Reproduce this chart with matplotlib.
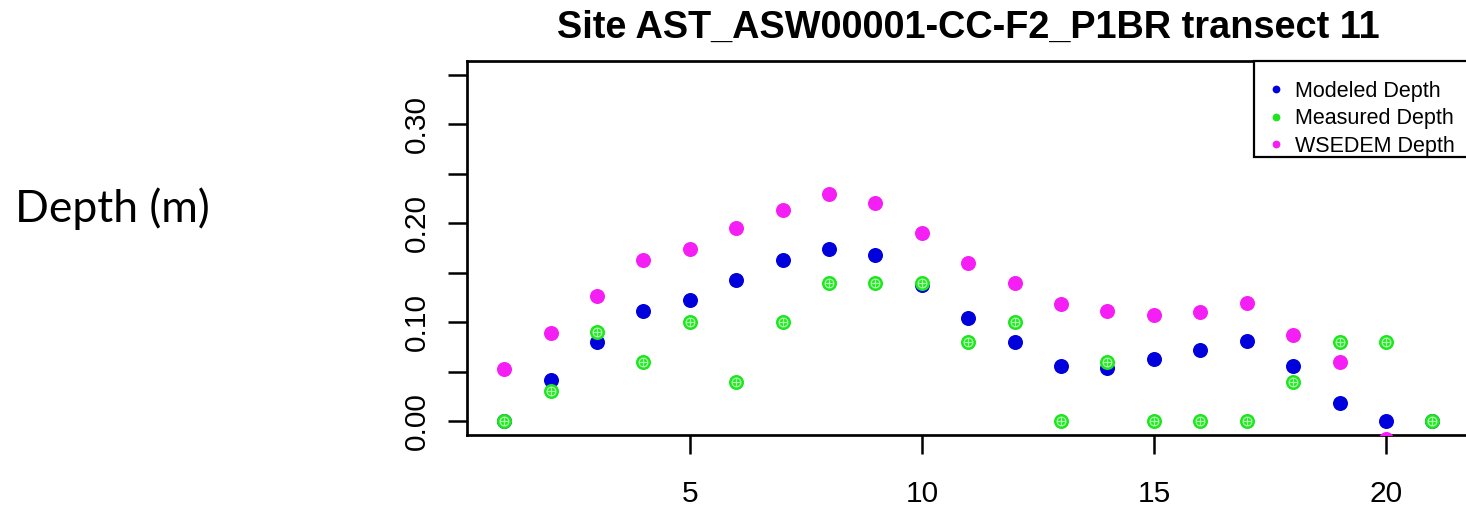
import numpy as np
import matplotlib
matplotlib.use("Agg")
import matplotlib.pyplot as plt
from matplotlib.path import Path
from matplotlib.lines import Line2D
from matplotlib.patches import Rectangle

# ---------------- data ----------------
x_index = list(range(1, 22))
modeled_depth = [0.000, 0.042, 0.080, 0.111, 0.122, 0.143, 0.163, 0.174, 0.168, 0.137,
                 0.104, 0.080, 0.056, 0.054, 0.063, 0.072, 0.081, 0.056, 0.018, 0.000, 0.000]
measured_depth = [0.00, 0.03, 0.09, 0.06, 0.10, 0.04, 0.10, 0.14, 0.14, 0.14,
                  0.08, 0.10, 0.00, 0.06, 0.00, 0.00, 0.00, 0.04, 0.08, 0.08, 0.00]
wsedem_depth = [0.053, 0.089, 0.126, 0.163, 0.174, 0.195, 0.213, 0.229, 0.220, 0.190,
                0.160, 0.139, 0.118, 0.111, 0.107, 0.110, 0.119, 0.087, 0.060, -0.018, np.nan]
series_labels = ["Modeled Depth", "Measured Depth", "WSEDEM Depth"]
x_ticks = [5, 10, 15, 20]
y_ticks = [0.00, 0.05, 0.10, 0.15, 0.20, 0.25, 0.30, 0.35]
y_tick_labels = ["0.00", "", "0.10", "", "0.20", "", "0.30", ""]
title_text = "Site AST_ASW00001-CC-F2_P1BR transect 11"
ylabel_text = "Depth (m)"

# ---------------- style ----------------
C_BLUE = "#0000DD"
C_GREEN = "#1EE61E"
C_MAG = "#F51EF5"

W, H = 1466, 509
DPI = 100
plt.rcParams["font.family"] = ["Liberation Sans", "DejaVu Sans"]


def circled_plus_path(r=0.58, n=48):
    t = np.linspace(0, 2 * np.pi, n)
    verts = list(np.c_[r * np.cos(t), r * np.sin(t)])
    codes = [Path.MOVETO] + [Path.LINETO] * (n - 1)
    verts += [(-r, 0), (r, 0), (0, -r), (0, r)]
    codes += [Path.MOVETO, Path.LINETO, Path.MOVETO, Path.LINETO]
    # pad so the marker scale uses the unit radius of the disk it sits on
    verts += [(1, 0), (1, 0)]
    codes += [Path.MOVETO, Path.MOVETO]
    return Path(np.array(verts, dtype=float), codes)


fig = plt.figure(figsize=(W / DPI, H / DPI), dpi=DPI)
ax_left, ax_right, ax_top, ax_bottom = 467, 1469.5, 60.7, 435
ax = fig.add_axes([ax_left / W, (H - ax_bottom) / H,
                   (ax_right - ax_left) / W, (ax_bottom - ax_top) / H])
ax.set_xlim(0.2, 21.8)
ax.set_ylim(-0.014, 0.364)

ms = 10.8
ax.plot(x_index, wsedem_depth, ls="none", marker="o", ms=ms, mfc=C_MAG, mew=0, zorder=3)
ax.plot(x_index, modeled_depth, ls="none", marker="o", ms=ms, mfc=C_BLUE, mew=0, zorder=3)
ax.plot(x_index, measured_depth, ls="none", marker="o", ms=ms, mfc=C_GREEN, mew=0, zorder=3)
ax.plot(x_index, measured_depth, ls="none", marker=circled_plus_path(), ms=ms,
        fillstyle="none", mec=(0.85, 1.0, 0.85, 0.75), mew=0.9, zorder=3.1)

ax.set_xticks(x_ticks)
ax.set_xticklabels([str(v) for v in x_ticks])
ax.set_yticks(y_ticks)
ax.set_yticklabels(y_tick_labels, rotation=90, va="center")

for s in ax.spines.values():
    s.set_linewidth(1.95)
ax.tick_params(axis="both", direction="out", length=13.7, width=1.8, labelsize=21.5)
ax.tick_params(axis="x", pad=18.5)
ax.tick_params(axis="y", pad=12)

# legend: frame drawn as its own box (R style: top aligned with plot box)
frame = Rectangle((1254 / W, (H - 156.7) / H), (ax_right - 1254) / W, (156.7 - ax_top) / H,
                  transform=fig.transFigure, facecolor="white", edgecolor="black",
                  linewidth=1.6, clip_on=False, zorder=4)
ax.add_patch(frame)
handles = [Line2D([], [], ls="none", marker="o", ms=5.6, mfc=c, mew=0)
           for c in (C_BLUE, C_GREEN, C_MAG)]
leg = ax.legend(handles, series_labels, loc="upper right",
                bbox_to_anchor=(1455 / W, (H - 81) / H), bbox_transform=fig.transFigure,
                borderaxespad=0, borderpad=0, frameon=False, fontsize=15.5,
                labelspacing=0.3, handlelength=0.8, handletextpad=0.48)
leg.set_zorder(5)

renderer = fig.canvas.get_renderer()

# title, fitted to the measured width
cx = (ax_left + ax_right) / 2 / W
title = fig.text(cx, (H - 38) / H, title_text, ha="center", va="baseline",
                 fontsize=26, fontweight="bold")
tw = title.get_window_extent(renderer).width
title.set_fontsize(26 * 825 / tw)

# y label (Calibri-like), fitted to the measured width
ylab = fig.text(15 / W, (H - 221.7) / H, ylabel_text, ha="left", va="baseline",
                fontsize=32, family=["Lato", "DejaVu Sans"])
lw = ylab.get_window_extent(renderer).width
ylab.set_fontsize(32 * 195 / lw)

fig.savefig("out.png", dpi=DPI)
